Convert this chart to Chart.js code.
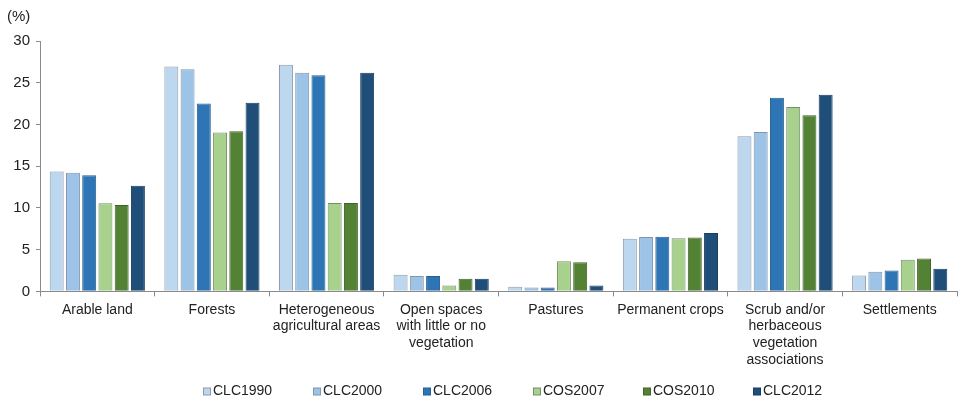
<!DOCTYPE html>
<html>
<head>
<meta charset="utf-8">
<script src="https://cdn.jsdelivr.net/npm/chart.js@4"></script>
<style>
html,body{margin:0;padding:0;background:#fff;}
#wrap{width:958px;height:400px;}
</style>
</head>
<body>
<div id="wrap"><canvas id="c" width="958" height="400"></canvas></div>
<script>
const categories = [
  "Arable land",
  "Forests",
  ["Heterogeneous", "agricultural areas"],
  ["Open spaces", "with little or no", "vegetation"],
  "Pastures",
  "Permanent crops",
  ["Scrub and/or", "herbaceous", "vegetation", "associations"],
  "Settlements"
];
const seriesNames = ["CLC1990", "CLC2000", "CLC2006", "COS2007", "COS2010", "CLC2012"];
const clc1990 = [14.35, 26.95, 27.15, 2.0, 0.55, 6.3, 18.6, 1.9];
const clc2000 = [14.2, 26.6, 26.2, 1.85, 0.45, 6.5, 19.1, 2.35];
const clc2006 = [13.9, 22.5, 25.9, 1.85, 0.45, 6.55, 23.2, 2.5];
const cos2007 = [10.55, 19.05, 10.6, 0.7, 3.6, 6.35, 22.1, 3.8];
const cos2010 = [10.35, 19.2, 10.6, 1.5, 3.5, 6.45, 21.1, 3.95];
const clc2012 = [12.65, 22.6, 26.2, 1.5, 0.7, 7.0, 23.55, 2.7];
const yTicks = [0, 5, 10, 15, 20, 25, 30];

const fills = ["#bdd7ee", "#9dc3e6", "#2e75b6", "#a9d18e", "#548235", "#1f4e79"];
const borders = ["#8d9bab", "#7f95ab", "#285f92", "#74906a", "#41632b", "#183d60"];
const values = [clc1990, clc2000, clc2006, cos2007, cos2010, clc2012];

const datasets = seriesNames.map((n, i) => ({
  label: n,
  data: values[i],
  backgroundColor: fills[i],
  borderColor: borders[i],
  borderWidth: 1,
  categoryPercentage: 0.85,
  barPercentage: 0.86
}));

const FONT = "'Liberation Sans', Arial, sans-serif";

// Custom bottom legend (Excel-like: small square, tight gap, wide item spacing)
const bottomLegend = {
  id: 'bottomLegend',
  afterDraw(chart) {
    const ctx = chart.ctx;
    const startX = 203, step = 110, cy = 391, box = 7;
    ctx.save();
    ctx.font = "14px " + FONT;
    ctx.textBaseline = 'middle';
    ctx.textAlign = 'left';
    chart.data.datasets.forEach((ds, i) => {
      const x = startX + i * step;
      ctx.fillStyle = ds.backgroundColor;
      ctx.fillRect(x + 0.5, cy - box / 2 + 0.5, box, box);
      ctx.strokeStyle = ds.borderColor;
      ctx.lineWidth = 1;
      ctx.strokeRect(x + 0.5, cy - box / 2 + 0.5, box, box);
      ctx.fillStyle = '#222';
      ctx.fillText(ds.label, x + box + 3, cy);
    });
    ctx.restore();
  }
};

new Chart(document.getElementById('c'), {
  type: 'bar',
  data: { labels: categories, datasets },
  plugins: [bottomLegend],
  options: {
    responsive: false,
    animation: false,
    devicePixelRatio: 1,
    layout: { padding: { left: 7, right: 1, top: 0, bottom: 27 } },
    plugins: {
      title: {
        display: true,
        text: '(%)',
        align: 'start',
        color: '#222',
        font: { family: FONT, size: 15, weight: 'normal' },
        padding: { top: 8, bottom: 15 }
      },
      legend: { display: false },
      tooltip: { enabled: false }
    },
    scales: {
      x: {
        grid: { drawOnChartArea: false, drawTicks: true, tickLength: 5, color: '#8a8a8a', offset: true },
        border: { color: '#8a8a8a' },
        ticks: {
          maxRotation: 0,
          autoSkip: false,
          color: '#222',
          font: { family: FONT, size: 14, lineHeight: 1.19 },
          padding: 5
        }
      },
      y: {
        min: 0,
        max: 30,
        afterBuildTicks: (axis) => { axis.ticks = yTicks.map(v => ({ value: v })); },
        afterFit: (axis) => { axis.width = 33; },
        grid: { drawOnChartArea: false, drawTicks: true, tickLength: 4, color: '#8a8a8a' },
        border: { color: '#8a8a8a' },
        ticks: {
          color: '#222',
          font: { family: FONT, size: 15 },
          padding: 6
        }
      }
    }
  }
});
</script>
</body>
</html>
